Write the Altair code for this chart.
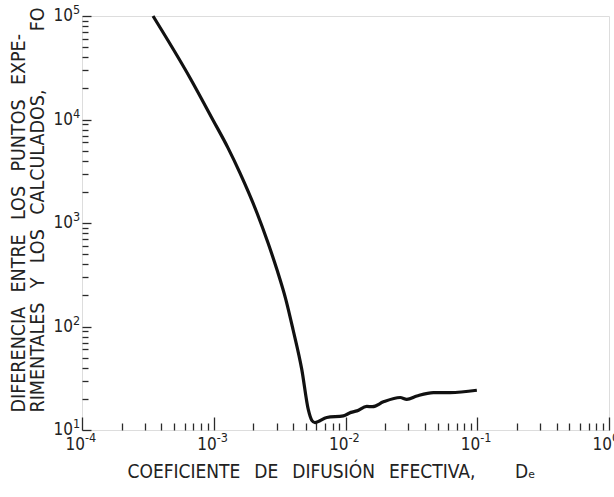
import altair as alt
import pandas as pd

# Effective diffusion coefficient vs. misfit between measured and calculated points
de_values = [3.46e-4, 6.61e-4, 9.86e-4, 1.282e-3, 1.58e-3, 2.13e-3, 2.58e-3,
             3.02e-3, 3.53e-3, 4.00e-3, 4.66e-3, 5.22e-3, 5.55e-3, 5.87e-3,
             7.21e-3, 9.64e-3, 1.10e-2, 1.22e-2, 1.45e-2, 1.60e-2, 1.94e-2,
             2.60e-2, 2.92e-2, 3.48e-2, 4.65e-2, 6.22e-2, 9.93e-2]
fo_values = [1.0e5, 2.52e4, 9.9e3, 5.32e3, 3.05e3, 1.25e3, 644,
             353, 181, 93, 38.3, 15.7, 12.4, 11.8,
             13.2, 13.7, 14.8, 15.3, 16.9, 16.8, 18.7,
             20.6, 19.8, 21.3, 23.0, 23.0, 24.2]

x_decades = [1e-4, 1e-3, 1e-2, 1e-1, 1e0]
x_exponents = ["-4", "-3", "-2", "-1", "0"]
y_decades = [1e1, 1e2, 1e3, 1e4, 1e5]
y_exponents = ["1", "2", "3", "4", "5"]
minor_steps = [2, 3, 4, 5, 6, 7, 8, 9]

x_minor = [m * d for d in x_decades[:-1] for m in minor_steps]
y_minor = [m * d for d in y_decades[:-1] for m in minor_steps]

GAP = "\u2002\u00a0"
x_title = GAP.join(["COEFICIENTE", "DE", "DIFUSIÓN", "EFECTIVA,"]) + "\u2003\u2003\u00a0Dₑ"
y_title = [GAP.join(["DIFERENCIA", "ENTRE", "LOS", "PUNTOS", "EXPE-"]),
           GAP.join(["RIMENTALES", "Y", "LOS", "CALCULADOS,"]) + "\u2003\u2003\u2003\u00a0FO"]

W, H = 527, 414
FONT = "'DejaVu Sans Condensed', 'Liberation Sans'"
INK = "#222222"
TICK = "#2a2a2a"

curve_df = pd.DataFrame({"de": de_values, "fo": fo_values})
xlab_df = pd.DataFrame({"v": x_decades, "base": ["10"] * 5, "exp": x_exponents})
ylab_df = pd.DataFrame({"v": y_decades, "base": ["10"] * 5, "exp": y_exponents})

x_scale = alt.Scale(type="log", domain=[1e-4, 1], nice=False)
y_scale = alt.Scale(type="log", domain=[10, 1e5], nice=False)

# main curve with decade ticks and axis titles
curve = alt.Chart(curve_df).mark_line(
    color="#111111", strokeWidth=3.2, strokeJoin="round", interpolate="monotone"
).encode(
    x=alt.X("de:Q", scale=x_scale, axis=alt.Axis(
        orient="bottom", values=x_decades, tickSize=13, offset=-13, domain=False,
        grid=False, labels=False, tickColor=TICK, tickWidth=1.3,
        title=x_title, titleFont=FONT, titleFontSize=19, titleFontWeight="normal",
        titleColor=INK, titleAlign="left", titleBaseline="alphabetic",
        titleX=45, titleY=60)),
    y=alt.Y("fo:Q", scale=y_scale, axis=alt.Axis(
        orient="left", values=y_decades, tickSize=9, offset=-9, domain=False,
        grid=False, labels=False, tickColor=TICK, tickWidth=1.3,
        title=y_title, titleFont=FONT, titleFontSize=19.5, titleFontWeight="normal",
        titleColor=INK, titleAngle=270, titleAlign="left", titleBaseline="top",
        titleLineHeight=19.5, titleX=-82, titleY=396)),
    order=alt.Order("de:Q"),
)

# minor ticks at 2..9 of each decade
minor = alt.Chart(curve_df).mark_line(opacity=0).encode(
    x=alt.X("de:Q", scale=x_scale, axis=alt.Axis(
        orient="bottom", values=x_minor, tickSize=7, offset=-7, domain=False,
        grid=False, labels=False, tickColor=TICK, tickWidth=1.3, title=None)),
    y=alt.Y("fo:Q", scale=y_scale, axis=alt.Axis(
        orient="left", values=y_minor, tickSize=6, offset=-6, domain=False,
        grid=False, labels=False, tickColor=TICK, tickWidth=1.3, title=None)),
)

# decade labels written as 10 with a raised exponent
text_style = dict(font=FONT, color=INK)
x_base = alt.Chart(xlab_df).mark_text(align="right", baseline="middle", fontSize=17, dx=3, **text_style).encode(
    x=alt.X("v:Q", scale=x_scale, axis=None), y=alt.value(H + 15), text="base:N")
x_exp = alt.Chart(xlab_df).mark_text(align="left", baseline="middle", fontSize=12.5, dx=3, **text_style).encode(
    x=alt.X("v:Q", scale=x_scale, axis=None), y=alt.value(H + 8), text="exp:N")
y_base = alt.Chart(ylab_df).mark_text(align="right", baseline="middle", fontSize=17, **text_style).encode(
    x=alt.value(-9), y=alt.Y("v:Q", scale=y_scale, axis=None), text="base:N")
y_exp = alt.Chart(ylab_df).mark_text(align="left", baseline="middle", fontSize=12.5, **text_style).encode(
    x=alt.value(-9), y=alt.Y("v:Q", scale=y_scale, axis=None), yOffset=alt.value(-6), text="exp:N")

chart = alt.layer(curve, minor, x_base, x_exp, y_base, y_exp).resolve_axis(
    x="independent", y="independent"
).properties(
    width=W, height=H,
    autosize=alt.AutoSizeParams(type="none"),
    padding={"left": 82, "top": 16, "right": 5, "bottom": 67},
).configure_view(stroke="#333333", strokeWidth=1.5).configure(background="white")

chart.save("out.html", embed_options={"renderer": "svg", "actions": False})
